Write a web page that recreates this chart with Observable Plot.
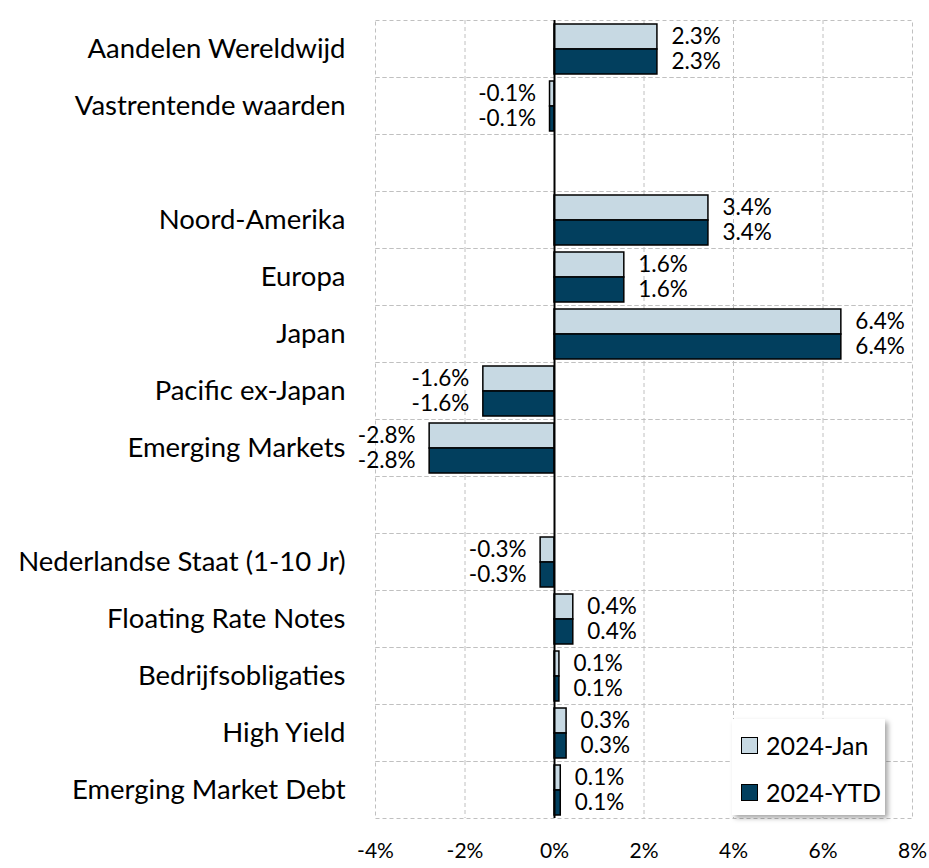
<!DOCTYPE html>
<html>
<head>
<meta charset="utf-8">
<script src="https://cdn.jsdelivr.net/npm/d3@7"></script>
<script src="https://cdn.jsdelivr.net/npm/@observablehq/plot@0.6"></script>
<style>
  body { margin: 0; background: #fff; font-family: Lato, sans-serif; }
  #wrap { position: relative; width: 929px; height: 868px; }
  #chart svg { display: block; overflow: visible; }
  #chart g[aria-label^="fy-axis"] text { font-size: 27.5px; }
  #chart g[aria-label^="x-axis"] text { font-size: 21px; }
  #legend { position: absolute; left: 732px; top: 719px; width: 153px; height: 96px;
    background: #fff; box-shadow: 3px 3px 5px rgba(0,0,0,0.35); font-size: 25px; color: #000; }
  .item { position: absolute; left: 9px; height: 30px; display: flex; align-items: center; white-space: nowrap; }
  .sw { flex: none; width: 15px; height: 15px; border: 1.5px solid #000; margin-right: 8px; }
</style>
</head>
<body>
<div id="wrap">
  <div id="chart"></div>
  <div id="legend"></div>
</div>
<script>
const categories = [
  "Aandelen Wereldwijd", "Vastrentende waarden", " ",
  "Noord-Amerika", "Europa", "Japan", "Pacific ex-Japan", "Emerging Markets", "  ",
  "Nederlandse Staat (1-10 Jr)", "Floating Rate Notes", "Bedrijfsobligaties", "High Yield", "Emerging Market Debt"
];
const seriesNames = ["2024-Jan", "2024-YTD"];
const seriesColors = ["#c7d9e3", "#023f5e"];
// values in %; null = empty spacer row
const jan = [2.3, -0.1, null, 3.44, 1.56, 6.41, -1.59, -2.79, null, -0.31, 0.42, 0.11, 0.27, 0.14];
const ytd = [2.3, -0.1, null, 3.44, 1.56, 6.41, -1.59, -2.79, null, -0.31, 0.42, 0.11, 0.27, 0.14];
const xTicks = [-4, -2, 0, 2, 4, 6, 8];

const data = [];
categories.forEach((c, i) => {
  [jan, ytd].forEach((arr, s) => {
    if (arr[i] != null) data.push({cat: c, series: seriesNames[s], value: arr[i]});
  });
});
const blanks = categories.filter((c, i) => jan[i] == null);
const fmt = v => v.toFixed(1) + "%";
const grid = {stroke: "#c0c0c0", strokeWidth: 1, strokeDasharray: "4,3", strokeOpacity: 1};

const chart = Plot.plot({
  width: 929,
  height: 868,
  marginLeft: 375,
  marginRight: 17,
  marginTop: 15,
  marginBottom: 46,
  style: {fontFamily: "Lato, sans-serif", fontSize: "20px", color: "#000", background: "#fff"},
  x: {domain: [-4, 8], ticks: xTicks, tickFormat: d => d + "%", tickSize: 0, tickPadding: 25, label: null},
  y: {domain: seriesNames, paddingInner: 0, paddingOuter: 0.12, axis: null},
  fy: {domain: categories, padding: 0, tickSize: 0, tickPadding: 30, label: null, tickFormat: d => d.trim()},
  color: {domain: seriesNames, range: seriesColors},
  marks: [
    Plot.ruleX(xTicks.filter(d => d > -4 && d < 8 && d !== 0), grid),
    Plot.frame(grid),
    // invisible placeholders so the spacer rows keep their facet
    Plot.tickX(blanks, {x: () => 0, fy: d => d, strokeOpacity: 0}),
    Plot.barX(data, {x: "value", y: "series", fy: "cat", fill: "series", stroke: "#000", strokeWidth: 1.5}),
    Plot.text(data.filter(d => d.value >= 0), {
      x: "value", y: "series", fy: "cat", text: d => fmt(d.value),
      textAnchor: "start", dx: 14, fontSize: 22.5, fill: "#000"
    }),
    Plot.text(data.filter(d => d.value < 0), {
      x: "value", y: "series", fy: "cat", text: d => fmt(d.value),
      textAnchor: "end", dx: -14, fontSize: 22.5, fill: "#000"
    }),
    Plot.ruleX([0], {stroke: "#000", strokeWidth: 2})
  ]
});
document.getElementById("chart").appendChild(chart);

const legend = d3.select("#legend");
seriesNames.forEach((s, i) => {
  const item = legend.append("div").attr("class", "item").style("top", (i === 0 ? 11 : 58) + "px");
  item.append("div").attr("class", "sw").style("background", seriesColors[i]);
  item.append("span").text(s);
});
</script>
</body>
</html>
